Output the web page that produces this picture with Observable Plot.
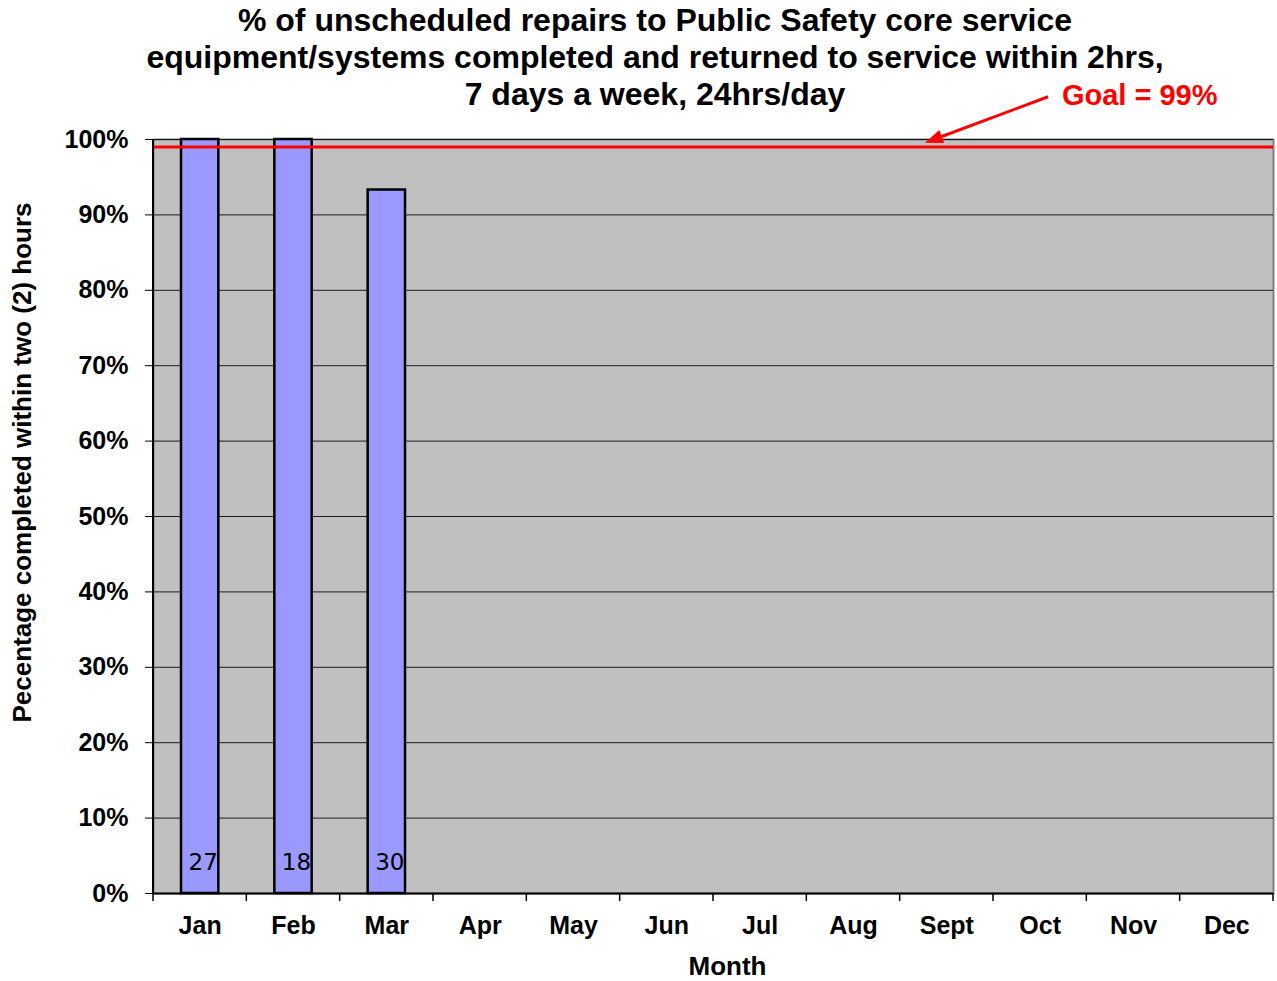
<!DOCTYPE html>
<html><head><meta charset="utf-8">
<script src="https://cdn.jsdelivr.net/npm/d3@7"></script>
<script src="https://cdn.jsdelivr.net/npm/@observablehq/plot@0.6"></script>
<style>
body{margin:0;background:#fff;}
#wrap{position:relative;width:1277px;height:981px;}
#title{position:absolute;left:33px;width:1244px;top:2px;text-align:center;font-family:"Liberation Sans",Arial,sans-serif;font-weight:bold;font-size:32px;line-height:37px;color:#000;z-index:2;}
#chart{position:absolute;left:0;top:0;}
</style>
</head><body>
<div id="wrap">
<div id="title">% of unscheduled repairs to Public Safety core service<br>equipment/systems completed and returned to service within 2hrs,<br>7 days a week, 24hrs/day</div>
<div id="chart"></div>
</div>
<script>
const months = ["Jan","Feb","Mar","Apr","May","Jun","Jul","Aug","Sept","Oct","Nov","Dec"];
const pctValues = [100, 100, 93.3];
const counts = [27, 18, 30];
const goal = 99;
const yTicks = [0,10,20,30,40,50,60,70,80,90,100];
const yLabel = "Pecentage completed within two (2) hours";
const xLabel = "Month";
const goalLabel = "Goal = 99%";

const data = pctValues.map((v,i)=>({month: months[i], pct: v, count: counts[i]}));

const plot = Plot.plot({
  width: 1277, height: 981,
  marginTop: 139, marginBottom: 88, marginLeft: 153, marginRight: 4,
  style: {fontFamily: '"Liberation Sans", Arial, sans-serif', background: "transparent", overflow: "visible", color: "#000"},
  x: {domain: months, paddingInner: 0.6, paddingOuter: 0.3, round: false, label: null},
  y: {domain: [0, 100], label: null},
  marks: [
    Plot.frame({fill: "#c0c0c0", stroke: "#808080", strokeWidth: 2}),
    Plot.gridY(yTicks, {stroke: "#000", strokeOpacity: 0.85, strokeWidth: 1}),
    Plot.barY(data, {x: "month", y: "pct", fill: "#9999ff", stroke: "#000", strokeWidth: 2.5}),
    Plot.text(data, {x: "month", y: 0, text: d => String(d.count), dy: -31, dx: 3, fontSize: 23, fontWeight: "normal", fontFamily: '"DejaVu Sans", sans-serif', fill: "#000"}),
    Plot.ruleY([goal], {stroke: "#ff0000", strokeWidth: 3}),
    Plot.ruleY([0], {stroke: "#000", strokeWidth: 2}),
    Plot.axisY(yTicks, {tickFormat: d => d + "%", tickSize: 8, tickPadding: 17, fontSize: 25, fontWeight: "bold", label: null}),
    Plot.axisX({tickSize: 0, tickPadding: 23, fontSize: 25, fontWeight: "bold", label: null}),
    Plot.text([yLabel], {frameAnchor: "left", textAnchor: "middle", lineAnchor: "middle", rotate: -90, dx: -131, dy: -54, fontSize: 26, fontWeight: "bold", fill: "#000"}),
    Plot.text([xLabel], {frameAnchor: "bottom", textAnchor: "middle", lineAnchor: "middle", dx: 14, dy: 73, fontSize: 26, fontWeight: "bold", fill: "#000"}),
    Plot.text([goalLabel], {frameAnchor: "top-right", textAnchor: "end", lineAnchor: "middle", dx: -56, dy: -44, fontSize: 29, fontWeight: "bold", fill: "#ff0000"})
  ]
});
document.getElementById("chart").appendChild(plot);

// Post-render decorations positioned through Plot's own scales
const svg = d3.select(plot);
const xs = plot.scale("x"), ys = plot.scale("y");
const x0 = xs.range[0], step = xs.step;
const yBottom = ys.apply(0), yTop = ys.apply(100);
const g = svg.append("g");
// left axis line
g.append("line").attr("x1", x0).attr("x2", x0).attr("y1", yTop).attr("y2", yBottom).attr("stroke", "#000").attr("stroke-width", 2);
// category boundary ticks
for (let i = 0; i <= months.length; i++) {
  const x = x0 + i * step;
  g.append("line").attr("x1", x).attr("x2", x).attr("y1", yBottom).attr("y2", yBottom + 8).attr("stroke", "#000").attr("stroke-width", 1.5);
}
// arrow from goal label to goal line
const center = m => xs.apply(m) + xs.bandwidth / 2;
const tip = [center("Sept") - 0.23 * step, ys.apply(99.5)];
const tail = [center("Oct") + 0.09 * step, ys.apply(105.6)];
const ang = Math.atan2(tip[1] - tail[1], tip[0] - tail[0]);
const L = 18, W = 7;
const bx = tip[0] - L * Math.cos(ang), by = tip[1] - L * Math.sin(ang);
g.append("line").attr("x1", tail[0]).attr("y1", tail[1]).attr("x2", bx).attr("y2", by).attr("stroke", "#ff0000").attr("stroke-width", 3);
g.append("path").attr("d", `M${tip[0]},${tip[1]}L${bx - W * Math.sin(ang)},${by + W * Math.cos(ang)}L${bx + W * Math.sin(ang)},${by - W * Math.cos(ang)}Z`).attr("fill", "#ff0000");
</script>
</body></html>
